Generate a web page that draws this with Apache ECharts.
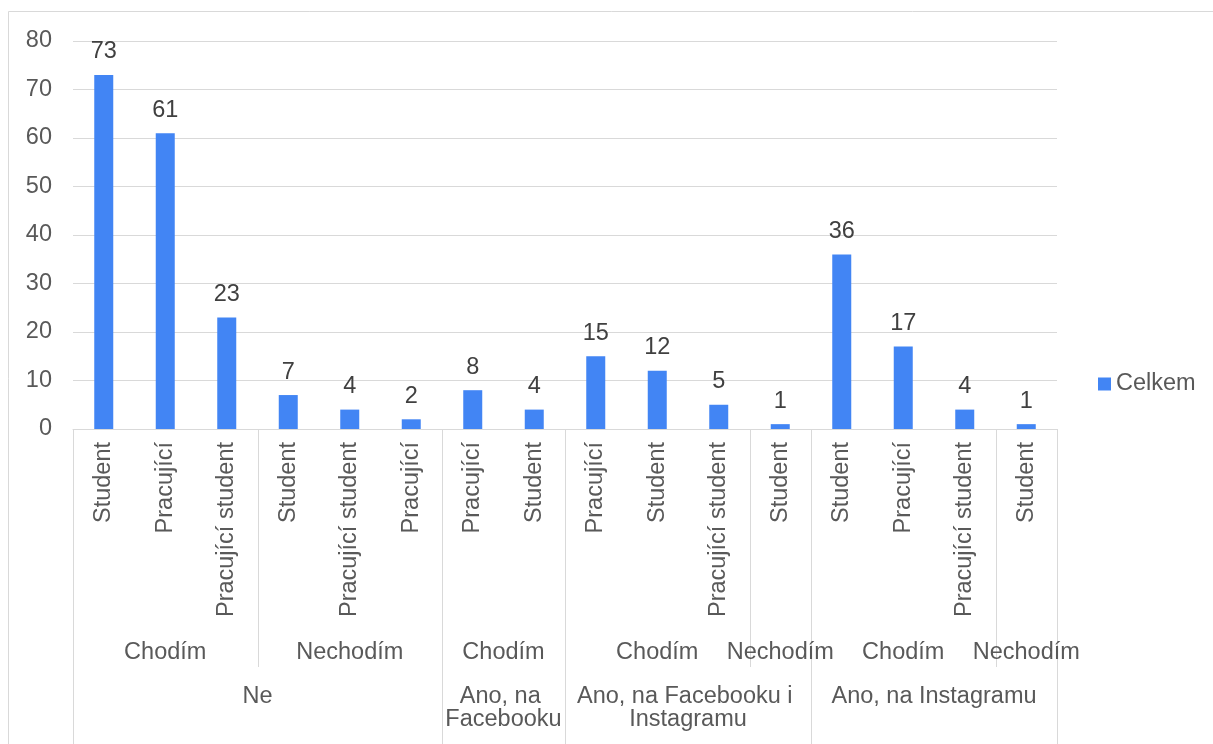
<!DOCTYPE html>
<html><head><meta charset="utf-8">
<script src="https://cdn.jsdelivr.net/npm/echarts@6/dist/echarts.min.js"></script>
<style>html,body{margin:0;padding:0;background:#fff}#c{width:1213px;height:744px}</style>
</head><body><div id="c"></div>
<script>
// ---- data ----
const categories = ['Student','Pracující','Pracující student','Student','Pracující student','Pracující','Pracující','Student','Pracující','Student','Pracující student','Student','Student','Pracující','Pracující student','Student'];
const values = [73,61,23,7,4,2,8,4,15,12,5,1,36,17,4,1];
const groupNames = ['Chodím','Nechodím','Chodím','Chodím','Nechodím','Chodím','Nechodím'];
const groupSpans = [3,3,2,3,1,3,1];
const topNames = ['Ne','Ano, na Facebooku','Ano, na Facebooku i Instagramu','Ano, na Instagramu'];
const topSpans = [6,2,4,4];
const seriesName = 'Celkem';
const yMin = 0, yMax = 80, yStep = 10;

const FONT = '"Liberation Sans", Arial, sans-serif';
const FS = 23.5;
const GRAY = '#d9d9d9';
const TXT = '#595959';

const chart = echarts.init(document.getElementById('c'), null, {renderer:'canvas'});
const option = {
  animation:false,
  backgroundColor:'#fff',
  textStyle:{fontFamily:FONT},
  grid:{left:73,right:156,top:41,bottom:315,containLabel:false,outerBoundsMode:'none'},
  legend:{
    orient:'vertical', left:1098, top:372, padding:0, icon:'rect', itemWidth:13, itemHeight:13,
    textStyle:{fontSize:FS,color:TXT,fontFamily:FONT}, data:[seriesName]
  },
  xAxis:{
    type:'category', data:categories,
    axisLine:{show:true,lineStyle:{color:GRAY,width:1}},
    axisTick:{show:false},
    axisLabel:{interval:0,rotate:90,margin:13,fontSize:FS,color:TXT,fontFamily:FONT}
  },
  yAxis:{
    type:'value', min:yMin, max:yMax, interval:yStep,
    axisLine:{show:false}, axisTick:{show:false},
    axisLabel:{margin:21,fontSize:FS,color:TXT,fontFamily:FONT},
    splitLine:{lineStyle:{color:GRAY,width:1}}
  },
  series:[{
    name:seriesName, type:'bar', data:values, barWidth:19,
    itemStyle:{color:'#4285f4'},
    label:{show:true,position:'top',distance:11,fontSize:FS,color:'#404040',fontFamily:FONT}
  }]
};
chart.setOption(option);

const c0 = chart.convertToPixel({xAxisIndex:0}, 0);
const c1 = chart.convertToPixel({xAxisIndex:0}, 1);
const band = c1 - c0;
const edge = i => c0 - band/2 + i*band;
const y0 = chart.convertToPixel({yAxisIndex:0}, 0);
const H = 744;

const g = [];
g.push({type:'rect', shape:{x:8.5,y:11.5,width:1400,height:900}, style:{fill:null,stroke:GRAY,lineWidth:1}, silent:true});

function cum(spans){const r=[0];spans.forEach(s=>r.push(r[r.length-1]+s));return r;}
const topEdges = cum(topSpans);
const grpEdges = cum(groupSpans);
topEdges.forEach(i=>{
  const x = Math.round(edge(i))+0.5;
  g.push({type:'line', shape:{x1:x,y1:y0,x2:x,y2:H}, style:{stroke:GRAY,lineWidth:1}, silent:true});
});
grpEdges.forEach(i=>{
  if (topEdges.indexOf(i) >= 0) return;
  const x = Math.round(edge(i))+0.5;
  g.push({type:'line', shape:{x1:x,y1:y0,x2:x,y2:y0+238}, style:{stroke:GRAY,lineWidth:1}, silent:true});
});
groupNames.forEach((n,k)=>{
  const cx = (edge(grpEdges[k]) + edge(grpEdges[k+1]))/2;
  g.push({type:'text', x:cx, y:y0+224, silent:true,
    style:{text:n, align:'center', verticalAlign:'middle', fontSize:FS, fontFamily:FONT, fill:TXT}});
});
topNames.forEach((n,k)=>{
  const cx = (edge(topEdges[k]) + edge(topEdges[k+1]))/2;
  const w = edge(topEdges[k+1]) - edge(topEdges[k]);
  g.push({type:'text', x:cx, y:y0+256, silent:true,
    style:{text:n, align:'center', verticalAlign:'top', fontSize:FS, fontFamily:FONT, fill:TXT,
      width:w, overflow:'break', lineHeight:23}});
});
chart.setOption({graphic:g});
</script></body></html>
